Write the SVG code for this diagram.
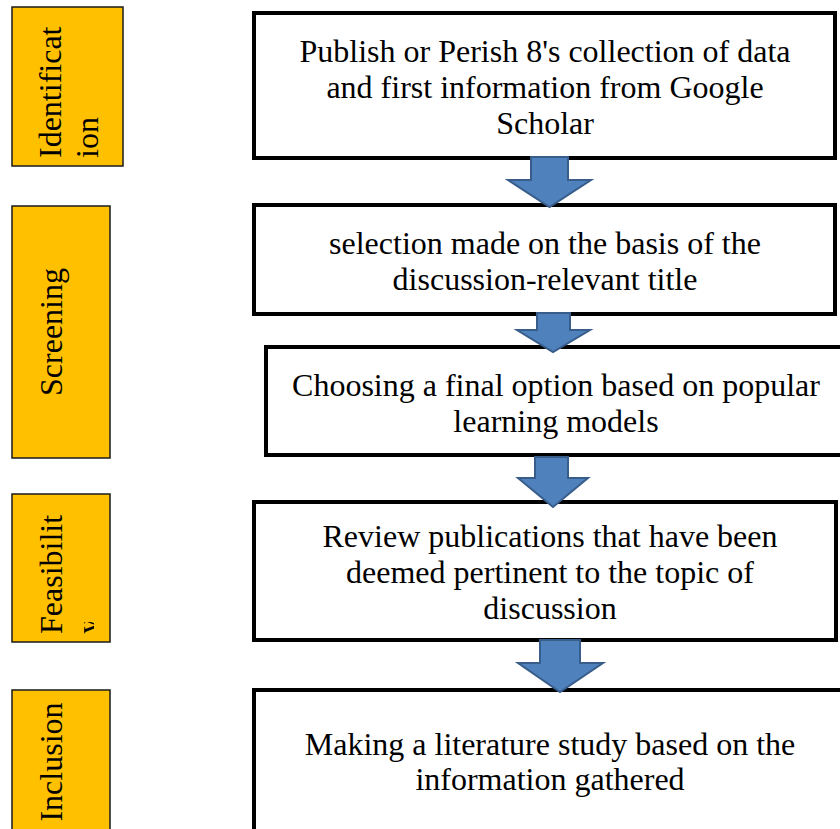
<svg xmlns="http://www.w3.org/2000/svg" width="840" height="829" viewBox="0 0 840 829">
<defs>
<style>
.stage{fill:#FFC000;stroke:#1a1a1a;stroke-width:1.5}
.box{fill:#ffffff;stroke:#000000;stroke-width:4}
.t{font-family:"Liberation Serif","Times New Roman",serif;font-size:32px;fill:#000000}
.c{text-anchor:middle}
.arrow{fill:#4F81BD;stroke:#385D8A;stroke-width:2;stroke-linejoin:miter}
</style>
<clipPath id="clipY"><rect x="84" y="622" width="10" height="16"/></clipPath>
</defs>
<rect width="840" height="829" fill="#ffffff"/>

<g id="stage-identification">
<rect class="stage" x="12" y="7" width="111" height="159"/>
<text class="t" transform="translate(61,158) rotate(-90)"><tspan x="0" y="0">Identificat</tspan><tspan x="0" y="37">ion</tspan></text>
</g>
<g id="stage-screening">
<rect class="stage" x="12" y="206" width="98" height="252"/>
<text class="t c" transform="translate(62,332) rotate(-90)" x="0" y="0">Screening</text>
</g>
<g id="stage-feasibility">
<rect class="stage" x="12" y="494" width="98" height="148"/>
<text class="t" transform="translate(62,634) rotate(-90)" x="0" y="0">Feasibilit</text>
<g clip-path="url(#clipY)"><text class="t" transform="translate(99,634) rotate(-90)" x="0" y="0">y</text></g>
</g>
<g id="stage-inclusion">
<rect class="stage" x="12" y="690" width="98" height="145"/>
<text class="t c" transform="translate(62,762) rotate(-90)" x="0" y="0">Inclusion</text>
</g>

<g id="step1">
<rect class="box" x="254" y="13" width="581" height="145"/>
<text class="t c"><tspan x="545" y="62">Publish or Perish 8's collection of data</tspan><tspan x="545" y="98">and first information from Google</tspan><tspan x="545" y="134">Scholar</tspan></text>
</g>
<g id="step2">
<rect class="box" x="254" y="205" width="581" height="109"/>
<text class="t c"><tspan x="545" y="254">selection made on the basis of the</tspan><tspan x="545" y="290">discussion-relevant title</tspan></text>
</g>
<g id="step3">
<rect class="box" x="266" y="347" width="590" height="108"/>
<text class="t c"><tspan x="556" y="396">Choosing a final option based on popular</tspan><tspan x="556" y="432">learning models</tspan></text>
</g>
<g id="step4">
<rect class="box" x="254" y="502" width="582" height="138"/>
<text class="t c"><tspan x="550" y="547">Review publications that have been</tspan><tspan x="550" y="583">deemed pertinent to the topic of</tspan><tspan x="550" y="619">discussion</tspan></text>
</g>
<g id="step5">
<rect class="box" x="254" y="690" width="600" height="160"/>
<text class="t c"><tspan x="550" y="755">Making a literature study based on the</tspan><tspan x="550" y="790">information gathered</tspan></text>
</g>

<g id="connectors">
<polygon class="arrow" points="531,157 568,157 568,180 591,180 549.5,207 508,180 531,180"/>
<polygon class="arrow" points="537,313 570,313 570,330 590,330 553,352 517,330 537,330"/>
<polygon class="arrow" points="535,457 568,457 568,478 588,478 553,507 518,478 535,478"/>
<polygon class="arrow" points="540,640 580,640 580,663 603,663 560,692 518,663 540,663"/>
</g>
</svg>
